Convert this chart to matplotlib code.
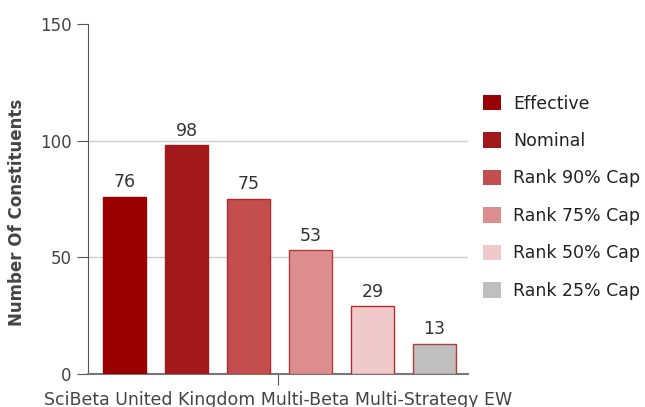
import matplotlib.pyplot as plt
import numpy as np

plt.rcParams['font.family'] = ['DejaVu Sans']

category = "SciBeta United Kingdom Multi-Beta Multi-Strategy EW"
series = ["Effective", "Nominal", "Rank 90% Cap", "Rank 75% Cap", "Rank 50% Cap", "Rank 25% Cap"]
values = [76, 98, 75, 53, 29, 13]
colors = ["#990000", "#a2181b", "#c44e4e", "#dc8e8e", "#f0caca", "#bfbfbf"]
edges = ["#990000", "#a2181b", "#b02a2a", "#b83a3a", "#b82a2a", "#b83a3a"]

fig = plt.figure(figsize=(6.45, 4.07), dpi=100)
ax = fig.add_axes([0.1364, 0.0811, 0.5892, 0.86])

spacing = 0.163
width = 0.114
for i, (name, v) in enumerate(zip(series, values)):
    x = (i - 2.5) * spacing + 0.004
    ax.bar(x, v, width=width, color=colors[i], edgecolor=edges[i], linewidth=1, label=name, zorder=3)
    ax.text(x, v + 2.4, str(v), ha="center", va="bottom", fontsize=12.5, color="#333333")

ax.set_xlim(-0.5, 0.5)
ax.set_ylim(0, 150)
ax.set_yticks([0, 50, 100, 150])
ax.set_xticks([0])
ax.set_xticklabels([category])
for y in [50, 100]:
    ax.axhline(y, color="#cccccc", linewidth=1, zorder=1)

for s in ["top", "right"]:
    ax.spines[s].set_visible(False)
ax.spines["left"].set_color("#555555")
ax.spines["bottom"].set_color("#777777")
ax.spines["bottom"].set_linewidth(1.5)
ax.tick_params(axis="y", length=8, color="#555555", labelsize=12, labelcolor="#444444", pad=4)
ax.tick_params(axis="x", length=8, color="#555555", labelsize=12.5, labelcolor="#444444", pad=4, direction="out")
ax.set_ylabel("Number Of Constituents", fontsize=12, fontweight="bold", color="#444444")
ax.yaxis.set_label_coords(-0.162, 0.463)

handles, labels = ax.get_legend_handles_labels()
leg = fig.legend(handles, labels, loc="upper left", bbox_to_anchor=(0.725, 0.806), frameon=False,
                 fontsize=12.5, handlelength=1.0, handleheight=1.0, labelspacing=1.12, handletextpad=0.7)
for h in leg.legend_handles:
    h.set_edgecolor("none")
for t in leg.get_texts():
    t.set_color("#222222")

fig.savefig("out.png", dpi=100)
